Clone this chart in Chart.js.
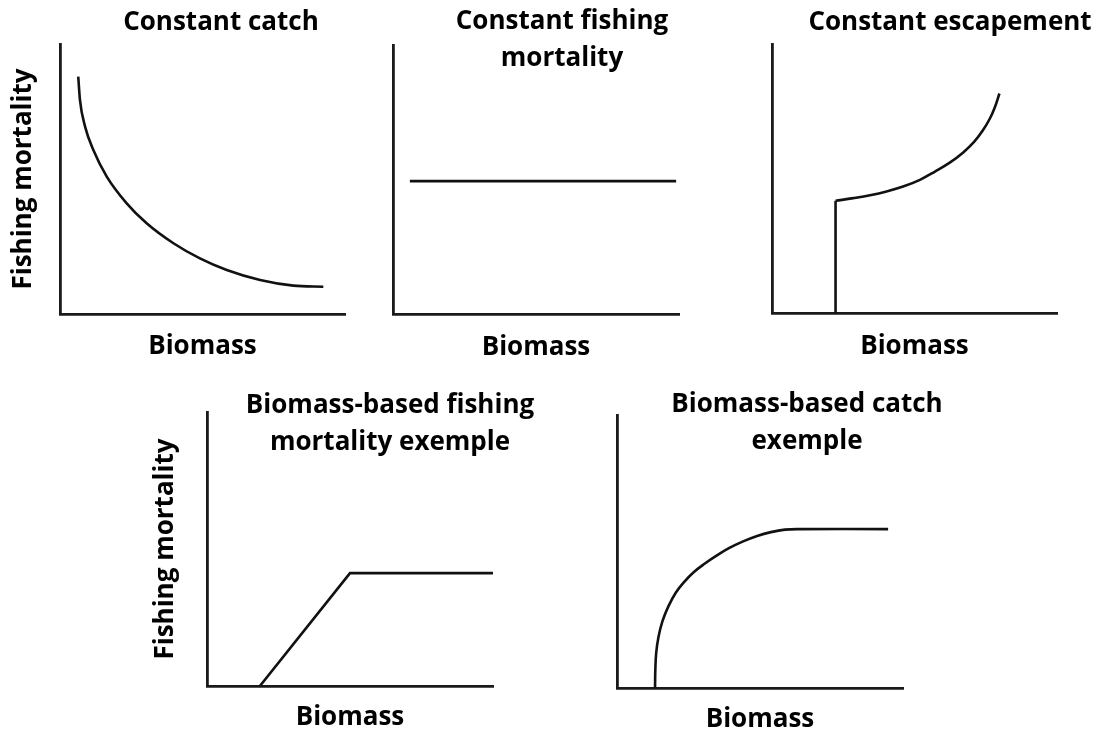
<!DOCTYPE html>
<html>
<head>
<meta charset="utf-8">
<script src="https://cdn.jsdelivr.net/npm/chart.js@4"></script>
<style>
  html, body { margin: 0; padding: 0; background: #fff; overflow: hidden; width: 1100px; height: 737px; }
  canvas { position: absolute; }
</style>
</head>
<body>
<script>
// Panel 1: constant catch (biomass 0-100, F 0-100)
const catchB = [6.4, 7.0, 8.8, 11.7, 16.4, 23.4, 30.4, 39.8, 49.1, 58.5, 70.2, 81.9, 92.4];
const catchF = [87.9, 79.3, 69.4, 60.7, 50.9, 41.0, 33.6, 26.2, 20.6, 16.3, 12.6, 10.5, 10.1];

// Panel 2: constant fishing mortality
const constFB = [5.9, 99.0];
const constF = [49.4, 49.4];

// Panel 3: constant escapement (vertical step + rising curve)
const escStepB = [22.3, 22.3];
const escStepF = [0, 41.7];
const escB = [22.3, 28.5, 34.4, 40.2, 46.0, 51.9, 57.2, 62.5, 67.1, 70.9, 74.0, 76.5, 78.2, 79.8];
const escF = [41.7, 42.7, 43.8, 45.2, 47.0, 49.5, 52.6, 56.0, 59.7, 63.6, 67.9, 72.4, 76.5, 81.6];

// Panel 4: biomass-based fishing mortality
const hcrB = [18.5, 50.0, 100];
const hcrF = [0, 41.2, 41.2];

// Panel 5: biomass-based catch
const bcB = [13.3, 13.4, 13.7, 14.5, 15.9, 18.0, 20.6, 23.6, 26.9, 30.6, 34.8, 39.3, 44.1, 49.0, 53.8, 58.7, 64.0, 94.8];
const bcF = [0, 6.6, 12.8, 18.7, 24.5, 30.0, 35.0, 39.0, 42.5, 45.5, 48.5, 51.3, 53.7, 55.7, 57.1, 58.0, 58.2, 58.2];

const LH = 37;
const FONT = { family: "'Open Sans', sans-serif", size: 26, weight: "bold", lineHeight: LH + "px" };
const AXIS = "#1a1a1a";

function pts(xs, ys) {
  return xs.map((x, i) => ({ x, y: ys[i] }));
}

// mode: "straight", "monotone" or "spline"
function line(xs, ys, mode) {
  return {
    data: pts(xs, ys),
    borderColor: "#111",
    borderWidth: 2.6,
    pointRadius: 0,
    fill: false,
    tension: mode === "straight" ? 0 : 0.4,
    cubicInterpolationMode: mode === "monotone" ? "monotone" : "default"
  };
}

// area = [left, top, right, bottom] of the axes box, page pixels
function makePanel(p) {
  const [l, t, r, b] = p.area;
  const cx0 = l - 60;
  const cx1 = 2 * p.titleX - cx0;
  const cy0 = Math.round(p.titleY - LH / 2 - 4);
  const cy1 = Math.round(p.xTitleY + LH / 2 + 6);

  const titlePadTop = p.titleY - LH / 2 - cy0;
  const titlePadBottom = (t - cy0) - p.title.length * LH - titlePadTop;
  const xPad = cy1 - p.xTitleY - LH / 2;
  const yPad = p.yTitleX ? p.yTitleX - cx0 - LH / 2 : 0;

  const canvas = document.createElement("canvas");
  canvas.width = cx1 - cx0;
  canvas.height = cy1 - cy0;
  canvas.style.left = cx0 + "px";
  canvas.style.top = cy0 + "px";
  document.body.appendChild(canvas);

  new Chart(canvas, {
    type: "line",
    data: { datasets: p.datasets },
    options: {
      responsive: false,
      animation: false,
      devicePixelRatio: 1,
      layout: { padding: 0 },
      plugins: {
        legend: { display: false },
        tooltip: { enabled: false },
        title: {
          display: true,
          text: p.title,
          color: "#000",
          font: FONT,
          padding: { top: titlePadTop, bottom: titlePadBottom }
        }
      },
      scales: {
        x: {
          type: "linear", min: 0, max: 100,
          ticks: { display: false },
          grid: { display: false, drawTicks: false },
          border: { color: AXIS, width: 2.8 },
          title: { display: true, text: "Biomass", color: "#000", font: FONT, padding: { top: 0, bottom: xPad } },
          afterFit: s => { s.height = cy1 - b; }
        },
        y: {
          type: "linear", min: 0, max: 100, position: "left",
          ticks: { display: false },
          grid: { display: false, drawTicks: false },
          border: { color: AXIS, width: 2.8 },
          title: { display: !!p.yTitleX, text: "Fishing mortality", color: "#000", font: FONT, padding: { top: yPad, bottom: 0 } },
          afterFit: s => { s.width = l - cx0; }
        },
        y2: {
          type: "linear", position: "right",
          ticks: { display: false },
          grid: { display: false, drawTicks: false },
          border: { display: false },
          afterFit: s => { s.width = cx1 - r; }
        }
      }
    }
  });
}

makePanel({
  area: [60, 44, 345, 314], title: ["Constant catch"], titleX: 221, titleY: 23, xTitleY: 347, yTitleX: 24,
  datasets: [line(catchB, catchF, "monotone")]
});
makePanel({
  area: [393, 45, 679, 314], title: ["Constant fishing", "mortality"], titleX: 562, titleY: 22, xTitleY: 348,
  datasets: [line(constFB, constF, "straight")]
});
makePanel({
  area: [772, 44, 1057, 313], title: ["Constant escapement"], titleX: 950, titleY: 23, xTitleY: 347,
  datasets: [line(escStepB, escStepF, "straight"), line(escB, escF, "spline")]
});
makePanel({
  area: [207, 412, 493, 686], title: ["Biomass-based fishing", "mortality exemple"], titleX: 390, titleY: 406, xTitleY: 718, yTitleX: 166,
  datasets: [line(hcrB, hcrF, "straight")]
});
makePanel({
  area: [617, 415, 903, 688], title: ["Biomass-based catch", "exemple"], titleX: 807, titleY: 405, xTitleY: 720,
  datasets: [line(bcB, bcF, "spline")]
});
</script>
</body>
</html>
